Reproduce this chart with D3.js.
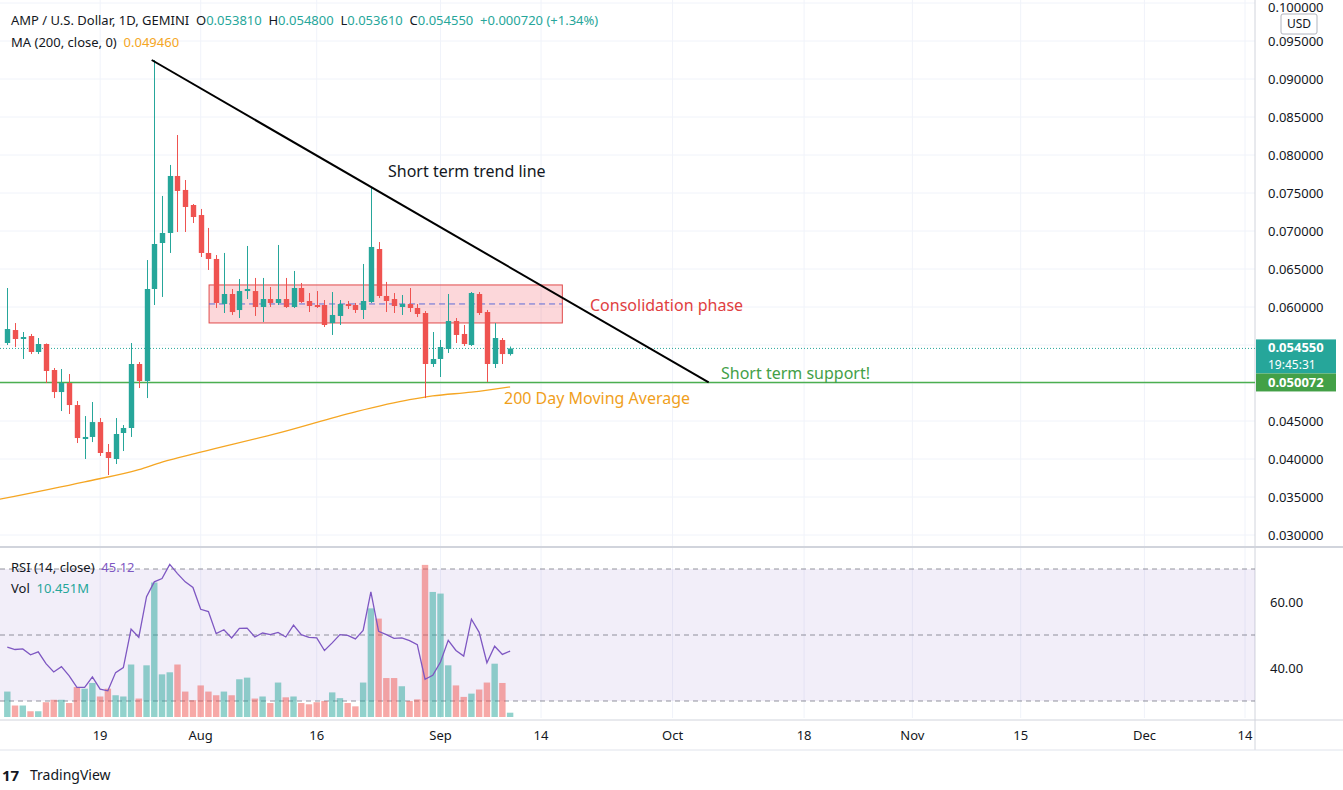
<!DOCTYPE html>
<html><head><meta charset="utf-8">
<script src="https://cdn.jsdelivr.net/npm/d3@7"></script>
<style>body{margin:0;background:#fff;font-family:"Noto Sans",Roboto,sans-serif} text{white-space:pre}</style>
</head><body><svg id="c" width="1343" height="790"></svg>
<script>
const startDate = "2021-07-07";
const opens  = [0.05526,0.05697,0.05579,0.05618,0.05408,0.05513,0.05171,0.04881,0.0500,0.0471,0.04263,0.0429,0.04486,0.04092,0.0400,0.04342,0.04408,0.0525,0.05026,0.06237,0.06842,0.06974,0.07724,0.0754,0.07342,0.0721,0.06711,0.06632,0.0604,0.06171,0.0596,0.0621,0.0621,0.06,0.06105,0.06053,0.06105,0.06,0.0625,0.06079,0.06026,0.06026,0.05789,0.05882,0.06039,0.06026,0.05961,0.06066,0.06763,0.06145,0.06105,0.06,0.06039,0.05987,0.05921,0.0525,0.05316,0.05447,0.05816,0.05645,0.055,0.06171,0.05934,0.0525,0.05566,0.05381];
const highs  = [0.0625,0.05789,0.05671,0.05645,0.05592,0.0552,0.05197,0.05184,0.05118,0.04763,0.04565,0.0475,0.04539,0.04197,0.04539,0.04447,0.05526,0.05276,0.06618,0.0925,0.07461,0.07869,0.08263,0.07671,0.07355,0.0729,0.0704,0.06684,0.06711,0.06237,0.06368,0.06803,0.06382,0.06382,0.06263,0.06816,0.06382,0.06474,0.06316,0.06184,0.0621,0.06092,0.06197,0.06092,0.06079,0.06053,0.06566,0.07566,0.06855,0.0633,0.06184,0.06158,0.0625,0.06039,0.05947,0.05671,0.05566,0.06171,0.05855,0.05763,0.06197,0.06197,0.05961,0.05789,0.05592,0.0548];
const lows   = [0.0550,0.05473,0.05316,0.05381,0.05381,0.0500,0.04802,0.04631,0.04592,0.0421,0.0400,0.04223,0.0404,0.03789,0.03934,0.04105,0.0429,0.04934,0.04802,0.06026,0.06132,0.06711,0.06987,0.06987,0.07105,0.06658,0.06487,0.05987,0.05921,0.05895,0.05855,0.06105,0.05882,0.05803,0.06,0.06026,0.05987,0.05987,0.06053,0.05934,0.05987,0.05737,0.05632,0.05763,0.05974,0.05921,0.05842,0.06053,0.06118,0.05934,0.05921,0.05895,0.05934,0.05868,0.04802,0.05211,0.05079,0.05395,0.05526,0.05487,0.05487,0.05895,0.05013,0.05197,0.0525,0.05361];
const closes = [0.0571,0.05579,0.05605,0.05408,0.05513,0.05158,0.04881,0.0500,0.0471,0.04276,0.0429,0.04486,0.04079,0.04013,0.04329,0.04408,0.0525,0.05026,0.06237,0.06829,0.06974,0.07724,0.07527,0.07316,0.07184,0.06711,0.06632,0.06053,0.06171,0.05934,0.0621,0.06237,0.06,0.06105,0.06053,0.06105,0.06,0.0625,0.06066,0.06013,0.06,0.05763,0.05895,0.06039,0.06013,0.05961,0.06079,0.0679,0.06145,0.06079,0.06013,0.06039,0.05987,0.05908,0.0525,0.05316,0.05474,0.05816,0.05632,0.05513,0.06184,0.05921,0.0525,0.05592,0.05381,0.05455];
const volumesM = [62,28,28,14,14,36,42,42,34,73,69,83,50,69,53,50,128,45,126,328,104,109,128,62,41,77,62,53,62,53,92,96,45,50,34,84,48,50,34,31,36,39,60,46,34,26,84,265,240,95,95,75,39,43,371,305,301,126,77,49,57,67,84,130,83,10.451];
const rsiValues = [46.3,45.6,45.8,44.0,44.9,41.3,38.8,40.4,37.6,34.1,34.1,37.3,33.6,33.1,38.6,40.1,51.8,49.3,61.6,66.1,67.1,71.4,68.6,66.1,64.4,57.8,57.1,50.4,51.6,49.1,52.0,52.1,49.4,50.6,50.1,50.8,49.4,53.0,50.1,49.3,49.1,45.3,47.6,50.1,49.9,48.8,51.4,63.1,51.1,50.1,49.0,49.1,48.3,47.1,36.6,37.8,41.8,48.4,45.3,43.6,54.8,50.8,41.6,46.6,44.1,45.12];
const maDays   = [-1,10,17,20,25,35,45,52,55,60,65];
const maValues = [0.0347,0.0370,0.0386,0.0396,0.0409,0.0434,0.0462,0.0478,0.0483,0.0488,0.0495];
const priceTicks = [0.03,0.035,0.04,0.045,0.05,0.055,0.06,0.065,0.07,0.075,0.08,0.085,0.09,0.095,0.1];
const rsiTicks = [40,60];
const timeTicks = [["2021-07-19","19"],["2021-08-01","Aug"],["2021-08-16","16"],["2021-09-01","Sep"],["2021-09-14","14"],["2021-10-01","Oct"],["2021-10-18","18"],["2021-11-01","Nov"],["2021-11-15","15"],["2021-12-01","Dec"],["2021-12-14","14"]];
const trendLine = [["2021-07-25T16:00",0.0925],["2021-10-05T16:00",0.05007]];
const consolidation = {from:"2021-08-02T02:00",to:"2021-09-16T18:00",top:0.0629,bottom:0.0579,mid:0.0604};
const supportLevel = 0.050072, lastPrice = 0.05455;

const svg = d3.select("#c");
const W=1255, rsiBot=718;
const day = 864e5, t0 = new Date(startDate+"T00:00");
const dateOf = i => new Date(t0.getTime()+i*day);
const x = d3.scaleTime().domain([t0,new Date("2021-12-14T00:00")]).range([7.3,1245]);
const y = d3.scaleLinear().domain([0.03,0.095]).range([535,41]);
const yr = d3.scaleLinear().domain([40,60]).range([668,602]);
const yv = d3.scaleLinear().domain([0,10]).range([717,712.9]);
const G="#26a69a", R="#ef5350";
const data = opens.map((o,i)=>({d:dateOf(i),o,h:highs[i],l:lows[i],c:closes[i],v:volumesM[i],r:rsiValues[i]}));

const grid = svg.append("g").attr("stroke","#f0f3fa");
timeTicks.forEach(t=>{const xx=x(new Date(t[0]+"T00:00"));grid.append("line").attr("x1",xx).attr("x2",xx).attr("y1",0).attr("y2",rsiBot);});
priceTicks.forEach(p=>grid.append("line").attr("x1",0).attr("x2",W).attr("y1",y(p)).attr("y2",y(p)));
svg.append("line").attr("x1",0).attr("x2",1343).attr("y1",547).attr("y2",547).attr("stroke","#d1d4dc").attr("stroke-width",2);
svg.append("line").attr("x1",W).attr("x2",W).attr("y1",0).attr("y2",750).attr("stroke","#d1d4dc");
svg.append("line").attr("x1",0).attr("x2",1343).attr("y1",720).attr("y2",720).attr("stroke","#d1d4dc");
svg.append("line").attr("x1",0).attr("x2",1343).attr("y1",750).attr("y2",750).attr("stroke","#e0e3eb");

svg.append("rect").attr("x",0).attr("width",W).attr("y",yr(70)).attr("height",yr(30)-yr(70)).attr("fill","rgba(126,87,194,0.1)");
[70,50,30].forEach(v=>svg.append("line").attr("x1",0).attr("x2",W).attr("y1",yr(v)).attr("y2",yr(v)).attr("stroke","#787b86").attr("stroke-dasharray","5,4").attr("opacity",0.8));
svg.append("g").selectAll("rect").data(data).join("rect")
 .attr("x",d=>x(d.d)-3.2).attr("width",6.4).attr("y",d=>yv(d.v)).attr("height",d=>717-yv(d.v))
 .attr("fill",d=>d.c>=d.o?"rgba(38,166,154,0.5)":"rgba(239,83,80,0.5)");
svg.append("path").datum(data).attr("fill","none").attr("stroke","#7e57c2").attr("stroke-width",1.3)
 .attr("d",d3.line().x(d=>x(d.d)).y(d=>yr(d.r)));

const cx1=x(new Date(consolidation.from)), cx2=x(new Date(consolidation.to));
svg.append("rect").attr("x",cx1).attr("width",cx2-cx1).attr("y",y(consolidation.top)).attr("height",y(consolidation.bottom)-y(consolidation.top))
 .attr("fill","rgba(242,54,69,0.2)").attr("stroke","#e04a4a").attr("stroke-width",1);
svg.append("line").attr("x1",cx1).attr("x2",cx2).attr("y1",y(consolidation.mid)).attr("y2",y(consolidation.mid)).attr("stroke","#5b6bd6").attr("stroke-dasharray","6,4");

svg.append("line").attr("x1",0).attr("x2",W).attr("y1",y(lastPrice)).attr("y2",y(lastPrice)).attr("stroke",G).attr("stroke-dasharray","1,2");
svg.append("line").attr("x1",0).attr("x2",W).attr("y1",y(supportLevel)).attr("y2",y(supportLevel)).attr("stroke","#4caf50").attr("stroke-width",1.5);
const maPts = maDays.map((d,i)=>[x(dateOf(d)),y(maValues[i])]);
svg.append("path").attr("d",d3.line().curve(d3.curveMonotoneX)(maPts)).attr("fill","none").attr("stroke","#f5a623").attr("stroke-width",1.3);

const cg = svg.append("g");
data.forEach(d=>{
  const col=d.c>=d.o?G:R, xx=Math.round(x(d.d))+0.5;
  cg.append("line").attr("x1",xx).attr("x2",xx).attr("y1",y(d.h)).attr("y2",y(d.l)).attr("stroke",col);
  const t=y(Math.max(d.o,d.c)), b=y(Math.min(d.o,d.c));
  cg.append("rect").attr("x",xx-2.7).attr("width",5.4).attr("y",t).attr("height",Math.max(1,b-t)).attr("fill",col);
});
svg.append("line").attr("x1",x(new Date(trendLine[0][0]))).attr("y1",y(trendLine[0][1])).attr("x2",x(new Date(trendLine[1][0]))).attr("y2",y(trendLine[1][1])).attr("stroke","#000").attr("stroke-width",2);

const txt=(xx,yy,s,c,sz,anchor)=>svg.append("text").attr("x",xx).attr("y",yy).attr("fill",c).attr("font-size",sz).attr("text-anchor",anchor||"start").text(s);
txt(388,177,"Short term trend line","#131722",16);
txt(590,311,"Consolidation phase","#e0403f",16);
txt(721,379,"Short term support!","#43a047",16);
txt(504,404,"200 Day Moving Average","#f0a01c",16);

const h = svg.append("text").attr("x",11).attr("y",25).attr("font-size",13).attr("fill","#131722");
h.append("tspan").text("AMP / U.S. Dollar, 1D, GEMINI\u00a0\u00a0");
[["O","0.053810"],["H","0.054800"],["L","0.053610"],["C","0.054550"]].forEach(p=>{h.append("tspan").text(p[0]);h.append("tspan").attr("fill",G).text(p[1]+"\u00a0\u00a0");});
h.append("tspan").attr("fill",G).text("+0.000720 (+1.34%)");
const m = svg.append("text").attr("x",11).attr("y",47).attr("font-size",13).attr("fill","#131722");
m.append("tspan").text("MA (200, close, 0)\u00a0\u00a0");m.append("tspan").attr("fill","#f5a623").text("0.049460");
const r1 = svg.append("text").attr("x",11).attr("y",572).attr("font-size",13).attr("fill","#131722");
r1.append("tspan").text("RSI (14, close)\u00a0\u00a0");r1.append("tspan").attr("fill","#7e57c2").text("45.12");
const r2 = svg.append("text").attr("x",11).attr("y",593).attr("font-size",13).attr("fill","#131722");
r2.append("tspan").text("Vol\u00a0\u00a0");r2.append("tspan").attr("fill",G).text("10.451M");

priceTicks.forEach(p=>txt(1268,Math.max(12,y(p)+5),p.toFixed(6),"#131722",13));
svg.append("rect").attr("x",1281).attr("y",14).attr("width",36).attr("height",20).attr("fill","#fff").attr("stroke","#b2b5be").attr("rx",2);
txt(1299,28,"USD","#131722",12,"middle");
svg.append("rect").attr("x",1256).attr("y",y(lastPrice)-9).attr("width",80).attr("height",34).attr("fill",G);
txt(1268,y(lastPrice)+4,lastPrice.toFixed(6),"#fff",13).attr("font-weight","bold");
txt(1268,y(lastPrice)+21,"19:45:31","#fff",12);
svg.append("rect").attr("x",1256).attr("y",y(supportLevel)-9).attr("width",80).attr("height",18).attr("fill","#43a047");
txt(1268,y(supportLevel)+5,"0.050072","#fff",13).attr("font-weight","bold");
rsiTicks.forEach(v=>txt(1270,yr(v)+5,v.toFixed(2),"#131722",13));
timeTicks.forEach(t=>txt(x(new Date(t[0]+"T00:00")),740,t[1],"#131722",13,"middle"));
svg.append("text").attr("x",2).attr("y",781).attr("font-size",15).attr("font-weight","bold").attr("fill","#131722").text("17");
txt(30,780,"TradingView","#131722",14);
</script></body></html>
